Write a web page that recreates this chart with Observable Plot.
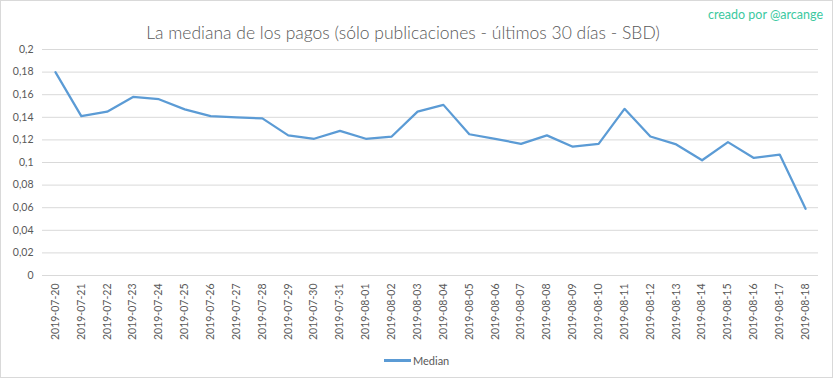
<!DOCTYPE html>
<html><head><meta charset="utf-8">
<script src="https://cdn.jsdelivr.net/npm/d3@7"></script>
<script src="https://cdn.jsdelivr.net/npm/@observablehq/plot@0.6"></script>
<style>
body{margin:0;background:#fff;}
#wrap{position:relative;width:831px;height:376px;border:1px solid #d9d9d9;background:#fff;font-family:Lato,"Open Sans",sans-serif;overflow:hidden;}
#title{position:absolute;left:0;width:804px;top:21px;text-align:center;font-size:17.5px;font-weight:300;color:#595959;white-space:nowrap;}
#credit{position:absolute;right:9px;top:6px;font-size:12.5px;color:#3cc99f;}
#legend{position:absolute;left:383px;top:353px;font-size:11px;color:#595959;display:flex;align-items:center;}
#legend .sw{display:inline-block;width:27px;height:2.5px;background:#5b9bd5;margin-right:2px;}
#chart{position:absolute;left:-1px;top:-1px;width:833px;}
#chart svg{max-width:none;}
</style></head>
<body>
<div id="wrap">
<div id="title">La mediana de los pagos (sólo publicaciones - últimos 30 días - SBD)</div>
<div id="credit">creado por @arcange</div>
<div id="chart"></div>
<div id="legend"><span class="sw"></span><span>Median</span></div>
</div>
<script>
const dates = ["2019-07-20","2019-07-21","2019-07-22","2019-07-23","2019-07-24","2019-07-25","2019-07-26","2019-07-27","2019-07-28","2019-07-29","2019-07-30","2019-07-31","2019-08-01","2019-08-02","2019-08-03","2019-08-04","2019-08-05","2019-08-06","2019-08-07","2019-08-08","2019-08-09","2019-08-10","2019-08-11","2019-08-12","2019-08-13","2019-08-14","2019-08-15","2019-08-16","2019-08-17","2019-08-18"];
const median = [0.180,0.141,0.145,0.158,0.156,0.147,0.141,0.140,0.139,0.124,0.121,0.128,0.121,0.123,0.145,0.151,0.125,0.121,0.1165,0.124,0.114,0.1165,0.1475,0.123,0.116,0.102,0.118,0.104,0.107,0.059];
const yTicks = [0,0.02,0.04,0.06,0.08,0.1,0.12,0.14,0.16,0.18,0.2];
const seriesName = "Median";

const data = dates.map((d,i)=>({idx:i, date:d, value:median[i], series:seriesName}));
const fmt = v => String(Number(v.toFixed(2))).replace(".", ",");
const idxTicks = dates.map((d,i)=>i);

const chart = Plot.plot({
  width: 833, height: 378,
  marginLeft: 42, marginRight: 15, marginTop: 49, marginBottom: 103,
  style: {fontFamily: "Lato, 'Open Sans', sans-serif", fontSize: "10px", color: "#595959", background: "transparent"},
  x: {type: "linear", domain: [-0.5, dates.length - 0.5], label: null},
  y: {domain: [0, 0.2], label: null},
  marks: [
    Plot.gridY(yTicks, {stroke: "#d9d9d9", strokeOpacity: 1, strokeWidth: 1}),
    Plot.axisY(yTicks, {tickSize: 0, tickPadding: 9, tickFormat: fmt, fill: "#595959", fontSize: 10.5}),
    Plot.axisX(idxTicks, {tickSize: 0, tickPadding: 8, tickRotate: -90, tickFormat: i => dates[i], fill: "#595959", fontSize: 10.5}),
    Plot.line(data, {x: "idx", y: "value", stroke: "#5b9bd5", strokeWidth: 2.25, strokeLinejoin: "round"})
  ]
});
document.getElementById("chart").appendChild(chart);
</script>
</body></html>
